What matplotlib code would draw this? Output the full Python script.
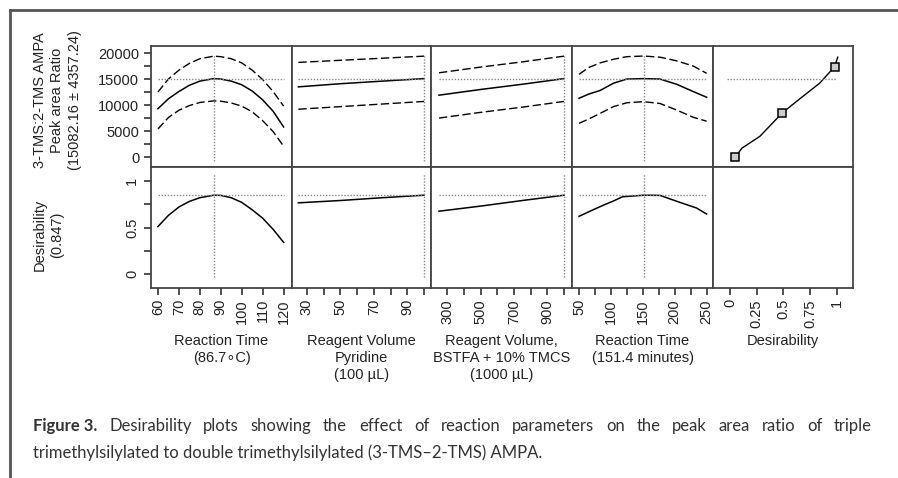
import matplotlib
matplotlib.use("Agg")
import matplotlib.pyplot as plt
from matplotlib import font_manager
from matplotlib.lines import Line2D

# ---- data ----
# response (3-TMS:2-TMS peak area ratio) and desirability profiles per factor
temp_x = [60, 65, 70, 75, 80, 86.7, 90, 95, 100, 105, 110, 115, 120]
temp_mid = [9300, 11200, 12600, 13800, 14600, 15082, 15000, 14600, 13900, 12700, 11000, 8800, 5800]
temp_hi = [12500, 15000, 16700, 18000, 18900, 19400, 19300, 18900, 18100, 16700, 14900, 12600, 9800]
temp_lo = [5400, 7600, 9000, 9900, 10500, 10800, 10750, 10400, 9800, 8700, 7000, 4900, 2100]
temp_des = [0.51, 0.63, 0.72, 0.78, 0.82, 0.847, 0.845, 0.82, 0.77, 0.69, 0.60, 0.48, 0.34]

pyr_x = [25, 50, 75, 100]
pyr_mid = [13500, 14100, 14600, 15082]
pyr_hi = [18200, 18600, 19000, 19400]
pyr_lo = [9200, 9700, 10200, 10700]
pyr_des = [0.765, 0.79, 0.82, 0.847]

bst_x = [250, 500, 750, 1000]
bst_mid = [11900, 13000, 14000, 15082]
bst_hi = [16200, 17300, 18300, 19400]
bst_lo = [7500, 8600, 9600, 10700]
bst_des = [0.675, 0.73, 0.79, 0.847]

time_x = [50, 65, 83, 104, 125, 151.4, 177, 203, 229, 250]
time_mid = [11300, 12100, 12800, 14200, 15000, 15082, 15000, 14000, 12600, 11500]
time_hi = [15900, 17200, 18100, 18800, 19300, 19420, 19200, 18500, 17500, 16100]
time_lo = [6500, 7300, 8400, 9700, 10450, 10650, 10300, 9050, 7650, 6900]
time_des_x = [50, 72, 90, 104, 118, 151.4, 177, 208, 234, 250]
time_des = [0.62, 0.69, 0.745, 0.785, 0.83, 0.847, 0.845, 0.77, 0.71, 0.645]

# desirability function (desirability on x, response on y)
dfun_x = [0.05, 0.11, 0.28, 0.49, 0.66, 0.84, 0.98, 1.01]
dfun_y = [0, 1700, 4000, 8500, 11300, 14200, 17350, 19200]
dpts_x = [0.05, 0.49, 0.98]
dpts_y = [0, 8500, 17350]

best_settings = [86.7, 100, 1000, 151.4]
pred_resp = 15082.16
pred_des = 0.847

col_labels = ["Reaction Time\n(86.7\u2218C)",
              "Reagent Volume\nPyridine\n(100 \u00b5L)",
              "Reagent Volume,\nBSTFA + 10% TMCS\n(1000 \u00b5L)",
              "Reaction Time\n(151.4 minutes)",
              "Desirability"]
xlims = [(56.7, 124), (21.2, 104.1), (202, 1048), (39, 260), (-0.16, 1.153)]
major_ticks = [[60, 70, 80, 90, 100, 110, 120], [30, 50, 70, 90], [300, 500, 700, 900],
               [50, 100, 150, 200, 250], [0, 0.25, 0.5, 0.75, 1]]
minor_ticks = [[], [40, 60, 80, 100], [400, 600, 800, 1000], [75, 125, 175, 225], []]
major_labels = [["60", "70", "80", "90", "100", "110", "120"], ["30", "50", "70", "90"],
                ["300", "500", "700", "900"], ["50", "100", "150", "200", "250"],
                ["0", "0.25", "0.5", "0.75", "1"]]

caption_bold = "Figure 3."
caption1 = "Desirability plots showing the effect of reaction parameters on the peak area ratio of triple"
caption2 = "trimethylsilylated to double trimethylsilylated (3-TMS\u20132-TMS) AMPA."

W, H = 898, 478
names = {f.name for f in font_manager.fontManager.ttflist}
SANS = "Liberation Sans" if "Liberation Sans" in names else "DejaVu Sans"
CAP = "Lato" if "Lato" in names else "DejaVu Sans"

plt.rcParams["font.family"] = [SANS, "DejaVu Sans"]
plt.rcParams["font.size"] = 10.5

fig = plt.figure(figsize=(W / 100, H / 100), dpi=100)


def rect(x0, y0, x1, y1):
    return [x0 / W, 1 - y1 / H, (x1 - x0) / W, (y1 - y0) / H]


xs = [151, 292, 431, 572, 713, 853]
ys = [46, 167, 288]
SPINE = "#444444"
REF = "#888888"
TXT = "#222222"
dash = (0, (6, 2.5))
dot = (0, (1, 1.2))

resp = [(temp_x, temp_lo, temp_mid, temp_hi), (pyr_x, pyr_lo, pyr_mid, pyr_hi),
        (bst_x, bst_lo, bst_mid, bst_hi), (time_x, time_lo, time_mid, time_hi)]
des = [(temp_x, temp_des), (pyr_x, pyr_des), (bst_x, bst_des), (time_des_x, time_des)]

for c in range(5):
    top = fig.add_axes(rect(xs[c], ys[0], xs[c + 1], ys[1]))
    bot = fig.add_axes(rect(xs[c], ys[1], xs[c + 1], ys[2]))
    for ax in (top, bot):
        ax.set_xlim(*xlims[c])
        for s in ax.spines.values():
            s.set_color(SPINE)
            s.set_linewidth(1.3)
        ax.tick_params(colors=TXT, labelcolor=TXT, direction="out", length=5, width=1.1)
        ax.tick_params(which="minor", direction="out", length=5, width=1.1, colors=TXT)
    top.set_ylim(-1900, 21350)
    bot.set_ylim(-0.15, 1.15)

    if c < 4:
        x, lo, mid, hi = resp[c]
        top.plot(x, mid, color="black", lw=1.1)
        top.plot(x, hi, color="black", lw=1.0, ls=dash)
        top.plot(x, lo, color="black", lw=1.0, ls=dash)
        top.plot([x[0], x[-1]], [pred_resp, pred_resp], color=REF, lw=1, ls=dot)
        top.plot([best_settings[c]] * 2, [-770, 19615], color=REF, lw=1, ls=dot)
        dx, dy = des[c]
        bot.plot(dx, dy, color="black", lw=1.1)
        bot.plot([x[0], x[-1]], [pred_des, pred_des], color=REF, lw=1, ls=dot)
        bot.plot([best_settings[c]] * 2, [-0.03, 1.07], color=REF, lw=1, ls=dot)
    else:
        top.plot(dfun_x, dfun_y, color="black", lw=1.0)
        top.plot(dpts_x, dpts_y, ls="none", marker="s", ms=6, mfc="#cccccc",
                 mec="black", mew=1.1)
        top.plot([-0.03, 1.0], [pred_resp, pred_resp], color=REF, lw=1, ls=dot)

    top.set_xticks([])
    if c == 0:
        top.set_yticks([0, 5000, 10000, 15000, 20000])
        top.set_yticks([2500, 7500, 12500, 17500], minor=True)
        bot.set_yticks([0, 0.5, 1])
        bot.set_yticklabels(["0", "0.5", "1"], rotation=90, va="center")
        bot.set_yticks([0.25, 0.75], minor=True)
    else:
        top.set_yticks([])
        bot.set_yticks([])
    bot.set_xticks(major_ticks[c])
    bot.set_xticklabels(major_labels[c], rotation=90)
    bot.set_xticks(minor_ticks[c], minor=True)
    bot.tick_params(axis="x", pad=3)

    cx = (xs[c] + xs[c + 1]) / 2 / W
    fig.text(cx, 1 - 334 / H, col_labels[c], ha="center", va="top", color=TXT,
             linespacing=1.25, fontsize=10.5)

fig.text(33 / W, 1 - 100 / H, "3-TMS:2-TMS AMPA\nPeak area Ratio\n(15082.16 \u00b1 4357.24)",
         rotation=90, ha="left", va="center", multialignment="center", color=TXT,
         linespacing=1.3, fontsize=10.5)
fig.text(33 / W, 1 - 235 / H, "Desirability\n(0.847)", rotation=90, ha="left",
         va="center", multialignment="center", color=TXT, linespacing=1.3, fontsize=10.5)

# frame lines of the figure box
fig.add_artist(Line2D([10 / W, 10 / W], [0, 1 - 10 / H], color="#555555", lw=2))
fig.add_artist(Line2D([10 / W, 1], [1 - 10 / H, 1 - 10 / H], color="#555555", lw=2))

# caption: first line justified between x=33 and x=872, second line left aligned
cap_kw = dict(family=CAP, fontsize=12, color="#333333", va="baseline", ha="left")
renderer = fig.canvas.get_renderer()
words = [(caption_bold, "bold")] + [(w, "normal") for w in caption1.split()]
arts = [fig.text(0, 1 - 431 / H, w, fontweight=fw, **cap_kw) for w, fw in words]
widths = [a.get_window_extent(renderer).width for a in arts]
gap = (872 - 33 - sum(widths)) / (len(arts) - 1)
xpos = 33
for a, wd in zip(arts, widths):
    a.set_x(xpos / W)
    xpos += wd + gap
fig.text(33 / W, 1 - 458 / H, caption2, fontweight="normal", **cap_kw)

fig.savefig("out.png", dpi=100)
